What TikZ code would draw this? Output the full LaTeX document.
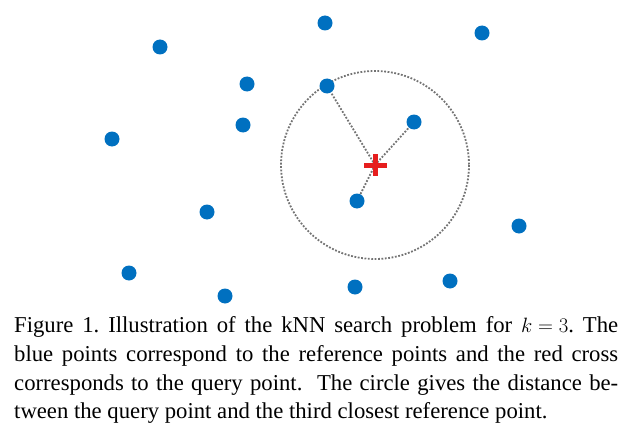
\documentclass[tikz,border=0pt]{standalone}
\usepackage{fontspec}
\setmainfont{Liberation Serif}
\definecolor{ptblue}{RGB}{0,112,192}
\definecolor{qred}{RGB}{230,30,30}
\tikzset{
  refpt/.style={circle,fill=ptblue,minimum size=15pt,inner sep=0pt},
  link/.style={draw=gray!90!black,line width=1.8pt,dash pattern=on 1.8pt off 1.6pt},
  caption/.style={anchor=base west,inner sep=0pt,font=\fontsize{22.7}{29}\selectfont\frenchspacing}
}
\begin{document}
\begin{tikzpicture}[x=1pt,y=-1pt]
\useasboundingbox (0,0) rectangle (632,428);
% search radius circle
\coordinate (qc) at (375,165);
\draw[link] (qc) circle[radius=94];
% query point
\node[inner sep=0pt,minimum size=23pt] (q) at (qc) {};
% reference points
\node[refpt] (p1) at (325,23) {};
\node[refpt] (p2) at (482,33) {};
\node[refpt] (p3) at (160,47) {};
\node[refpt] (p4) at (247,84) {};
\node[refpt] (n1) at (327,86) {};
\node[refpt] (n2) at (414,122) {};
\node[refpt] (p5) at (243,125) {};
\node[refpt] (p6) at (112,139) {};
\node[refpt] (n3) at (357,201) {};
\node[refpt] (p7) at (207,212) {};
\node[refpt] (p8) at (519,226) {};
\node[refpt] (p9) at (129,273) {};
\node[refpt] (p10) at (450,281) {};
\node[refpt] (p11) at (355,287) {};
\node[refpt] (p12) at (225,296) {};
% connectors
\draw[link] (q.center) -- (n1);
\draw[link] (q.center) -- (n2);
\draw[link] (q.center) -- (n3);
\fill[qred] ([xshift=-11.5pt,yshift=-2.5pt]q.center) rectangle ([xshift=11.5pt,yshift=2.5pt]q.center);
\fill[qred] ([xshift=-2.5pt,yshift=-11pt]q.center) rectangle ([xshift=2.5pt,yshift=11pt]q.center);
% caption
\node[caption] (c1) at (14,332) {\makebox[604pt][s]{Figure 1. Illustration of the kNN search problem for \mbox{$k = 3$}. The}};
\node[caption] (c2) at (14,361) {\makebox[604pt][s]{blue points correspond to the reference points and the red cross}};
\node[caption] (c3) at (14,390) {\makebox[604pt][s]{corresponds to the query point.\ \ The circle gives the distance be-}};
\node[caption] (c4) at (14,418) {tween the query point and the third closest reference point.};
\end{tikzpicture}
\end{document}
